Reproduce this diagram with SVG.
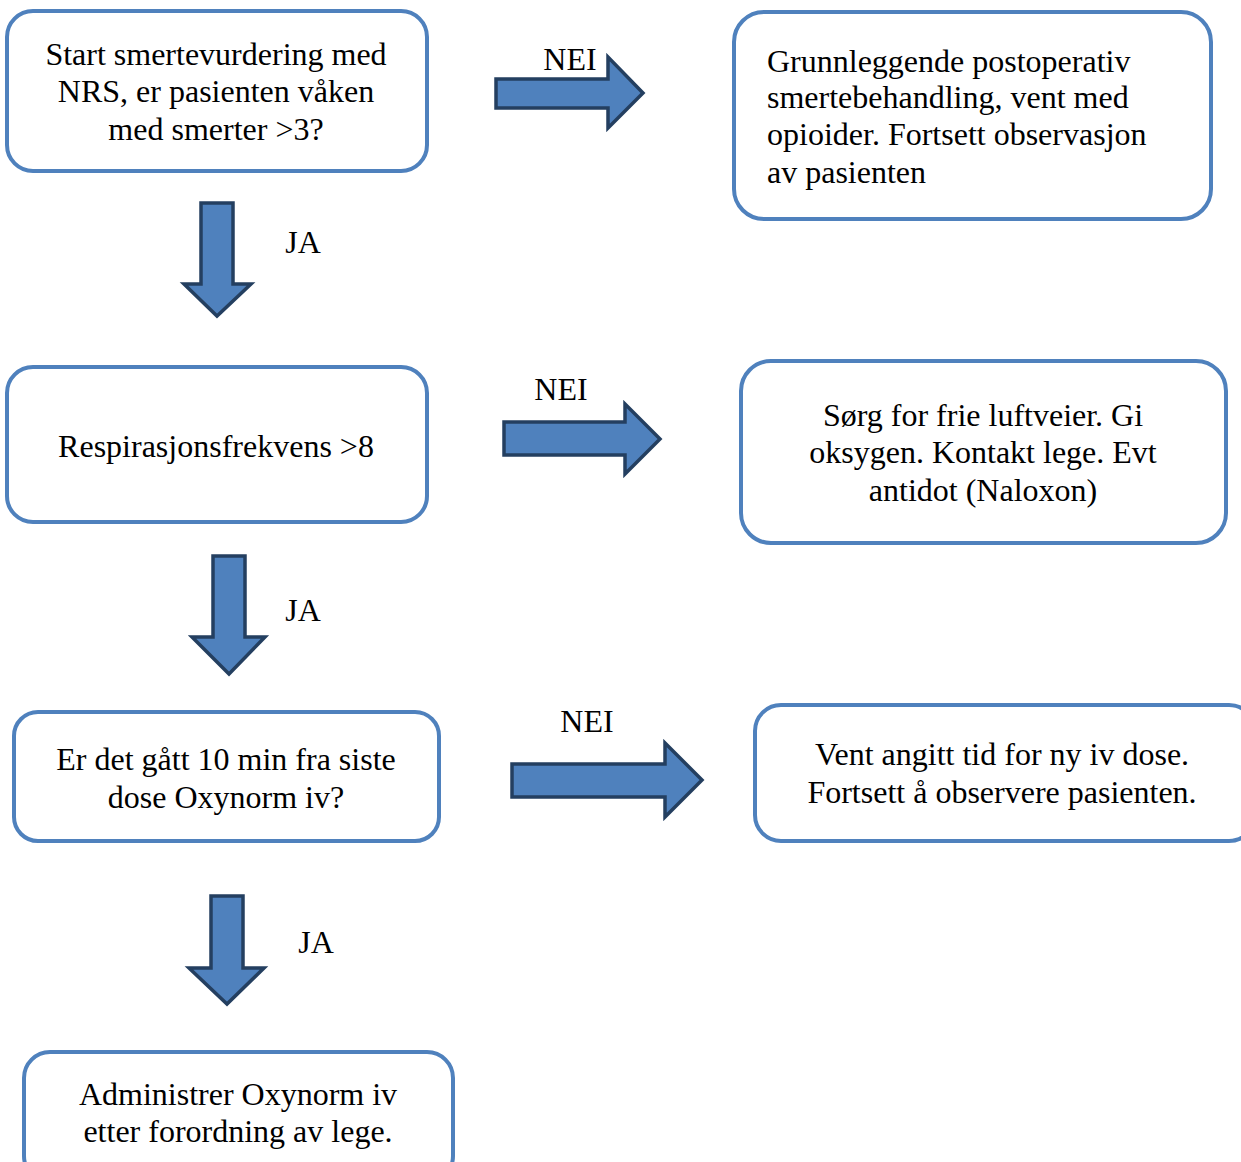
<svg xmlns="http://www.w3.org/2000/svg" width="1241" height="1162" viewBox="0 0 1241 1162">
<style>
.box{fill:#fff;stroke:#4F81BD;stroke-width:4}
.arr{fill:#4F81BD;stroke:#243F60;stroke-width:3.5;stroke-linejoin:miter}
text{font-family:"Liberation Serif","Times New Roman",serif;font-size:32px;fill:#000}
.c{text-anchor:middle}
</style>
<rect width="1241" height="1162" fill="#fff"/>
<g id="connectors">
<polygon class="arr" points="496,79 608,79 608,57 643,93 608,128 608,108 496,108"/>
<text class="c" x="570" y="70">NEI</text>
<polygon class="arr" points="201,203 233,203 233,284 251,284 217,316 184,284 201,284"/>
<text class="c" x="303" y="253">JA</text>
<polygon class="arr" points="504,422 625,422 625,404 660,439 625,474 625,455 504,455"/>
<text class="c" x="561" y="400">NEI</text>
<polygon class="arr" points="213,556 245,556 245,637 265,637 229,674 192,637 213,637"/>
<text class="c" x="303" y="621">JA</text>
<polygon class="arr" points="512,764 665,764 665,743 702,780 665,817 665,797 512,797"/>
<text class="c" x="587" y="732">NEI</text>
<polygon class="arr" points="211,896 243,896 243,968 264,968 227,1004 189,968 211,968"/>
<text class="c" x="316" y="953">JA</text>
</g>
<g id="n1">
<rect class="box" x="7" y="11" width="420" height="160" rx="26"/>
<text class="c" x="216" y="65">Start smertevurdering med</text>
<text class="c" x="216" y="102">NRS, er pasienten våken</text>
<text class="c" x="216" y="140">med smerter &gt;3?</text>
</g>
<g id="n2">
<rect class="box" x="734" y="12" width="477" height="207" rx="30"/>
<text x="767" y="72">Grunnleggende postoperativ</text>
<text x="767" y="108">smertebehandling, vent med</text>
<text x="767" y="145">opioider. Fortsett observasjon</text>
<text x="767" y="183">av pasienten</text>
</g>
<g id="n3">
<rect class="box" x="7" y="367" width="420" height="155" rx="26"/>
<text class="c" x="216" y="457">Respirasjonsfrekvens &gt;8</text>
</g>
<g id="n4">
<rect class="box" x="741" y="361" width="485" height="182" rx="30"/>
<text class="c" x="983" y="426">Sørg for frie luftveier. Gi</text>
<text class="c" x="983" y="463">oksygen. Kontakt lege. Evt</text>
<text class="c" x="983" y="501">antidot (Naloxon)</text>
</g>
<g id="n5">
<rect class="box" x="14" y="712" width="425" height="129" rx="24"/>
<text class="c" x="226" y="770">Er det gått 10 min fra siste</text>
<text class="c" x="226" y="808">dose Oxynorm iv?</text>
</g>
<g id="n6">
<rect class="box" x="755" y="705" width="500" height="136" rx="26"/>
<text class="c" x="1002" y="765">Vent angitt tid for ny iv dose.</text>
<text class="c" x="1002" y="803">Fortsett å observere pasienten.</text>
</g>
<g id="n7">
<rect class="box" x="24" y="1052" width="429" height="130" rx="26"/>
<text class="c" x="238" y="1105">Administrer Oxynorm iv</text>
<text class="c" x="238" y="1142">etter forordning av lege.</text>
</g>
</svg>
